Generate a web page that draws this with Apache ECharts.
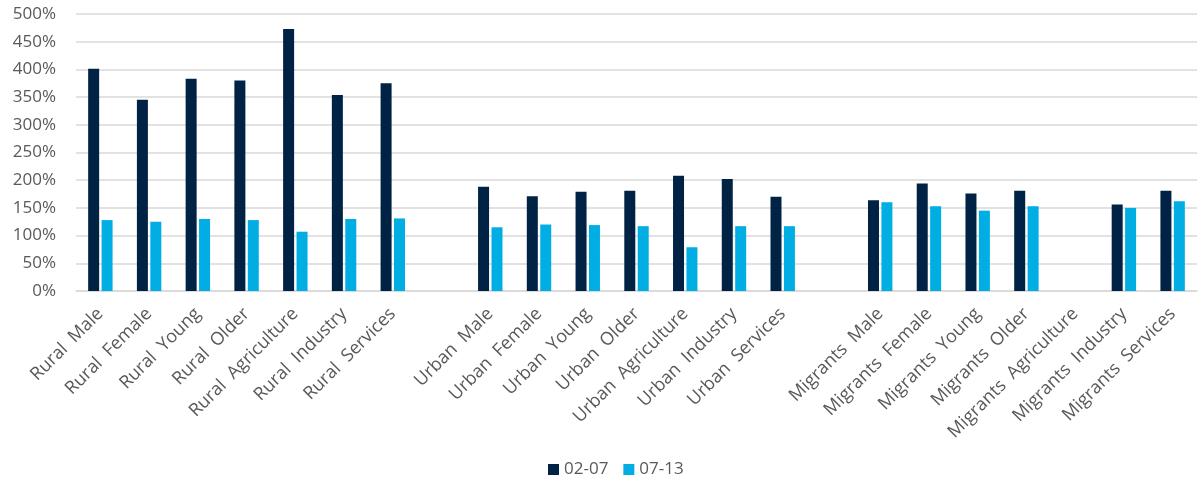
<!DOCTYPE html>
<html>
<head>
<meta charset="utf-8">
<script src="https://cdn.jsdelivr.net/npm/echarts@6/dist/echarts.min.js"></script>
<style>html,body{margin:0;padding:0;background:#fff}#c{width:1199px;height:481px}</style>
</head>
<body>
<div id="c"></div>
<script>
const categories = [
  'Rural  Male','Rural  Female','Rural  Young','Rural  Older','Rural  Agriculture','Rural  Industry','Rural  Services',
  '',
  'Urban  Male','Urban  Female','Urban  Young','Urban  Older','Urban  Agriculture','Urban  Industry','Urban  Services',
  ' ',
  'Migrants  Male','Migrants  Female','Migrants  Young','Migrants  Older','Migrants  Agriculture','Migrants  Industry','Migrants  Services'
];
const s0207 = [401,345,383,380,473,354,375, null, 188,171,179,181,208,202,170, null, 164,194,176,181,null,156,181];
const s0713 = [128,125,130,128,107,130,131, null, 115,120,119,117,79,117,117, null, 160,153,145,153,null,150,162];
const seriesNames = ['02-07','07-13'];

const font = '"Open Sans", sans-serif';
const chart = echarts.init(document.getElementById('c'), null, {renderer:'canvas'});
chart.setOption({
  animation:false,
  textStyle:{fontFamily:font},
  grid:{left:76,right:2,top:14,bottom:190,containLabel:false},
  legend:{
    data:seriesNames, left:543, top:456, icon:'rect', itemWidth:11, itemHeight:11, itemGap:15,
    textStyle:{fontSize:17,color:'#595959',fontFamily:font}
  },
  xAxis:{
    type:'category', data:categories,
    axisLine:{lineStyle:{color:'#d9d9d9',width:1.5}},
    axisTick:{show:false},
    axisLabel:{rotate:45, interval:0, fontSize:18, color:'#595959', margin:20, fontFamily:font}
  },
  yAxis:{
    type:'value', min:0, max:500, interval:50,
    axisLine:{show:false}, axisTick:{show:false},
    splitLine:{lineStyle:{color:'#d9d9d9',width:1.5}},
    axisLabel:{formatter:'{value}%', fontSize:17, color:'#595959', margin:20, fontFamily:font}
  },
  series:[
    {name:seriesNames[0], type:'bar', data:s0207, barWidth:11, barGap:'22%', itemStyle:{color:'#002244'}},
    {name:seriesNames[1], type:'bar', data:s0713, barWidth:11, barGap:'22%', itemStyle:{color:'#00AEE4'}}
  ]
});
</script>
</body>
</html>
